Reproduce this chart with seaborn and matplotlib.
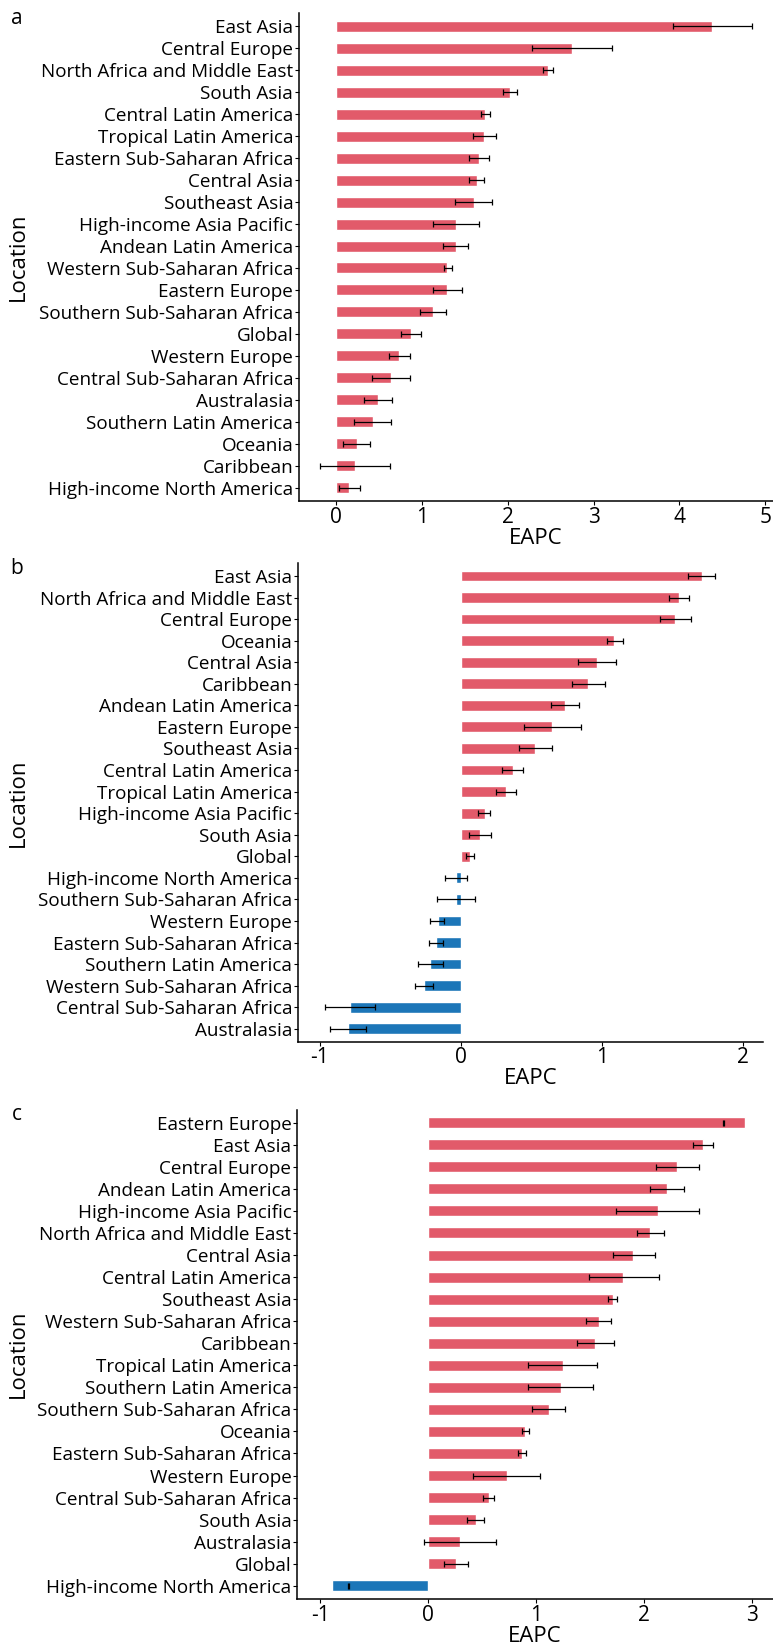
import matplotlib
matplotlib.use('Agg')
import matplotlib.pyplot as plt
from matplotlib.ticker import MultipleLocator
import seaborn as sns
import numpy as np
import pandas as pd


# panel a
locs_a = ["East Asia", "Central Europe", "North Africa and Middle East", "South Asia",
          "Central Latin America", "Tropical Latin America", "Eastern Sub-Saharan Africa",
          "Central Asia", "Southeast Asia", "High-income Asia Pacific", "Andean Latin America",
          "Western Sub-Saharan Africa", "Eastern Europe", "Southern Sub-Saharan Africa",
          "Global", "Western Europe", "Central Sub-Saharan Africa", "Australasia",
          "Southern Latin America", "Oceania", "Caribbean", "High-income North America"]
eapc_a = [4.38, 2.75, 2.47, 2.03, 1.74, 1.73, 1.67, 1.64, 1.61, 1.40, 1.40,
          1.30, 1.29, 1.13, 0.88, 0.74, 0.64, 0.49, 0.43, 0.25, 0.22, 0.16]
lo_a = [3.92, 2.29, 2.41, 1.95, 1.69, 1.60, 1.55, 1.55, 1.39, 1.13, 1.25,
        1.26, 1.13, 0.98, 0.76, 0.62, 0.42, 0.33, 0.21, 0.09, -0.18, 0.04]
hi_a = [4.84, 3.21, 2.53, 2.11, 1.79, 1.87, 1.78, 1.73, 1.82, 1.67, 1.54,
        1.35, 1.47, 1.28, 0.99, 0.87, 0.86, 0.65, 0.64, 0.40, 0.63, 0.28]

# panel b
locs_b = ["East Asia", "North Africa and Middle East", "Central Europe", "Oceania",
          "Central Asia", "Caribbean", "Andean Latin America", "Eastern Europe",
          "Southeast Asia", "Central Latin America", "Tropical Latin America",
          "High-income Asia Pacific", "South Asia", "Global", "High-income North America",
          "Southern Sub-Saharan Africa", "Western Europe", "Eastern Sub-Saharan Africa",
          "Southern Latin America", "Western Sub-Saharan Africa",
          "Central Sub-Saharan Africa", "Australasia"]
eapc_b = [1.71, 1.55, 1.52, 1.09, 0.97, 0.90, 0.74, 0.65, 0.53, 0.37, 0.32,
          0.17, 0.14, 0.066, -0.03, -0.03, -0.163, -0.175, -0.215, -0.26, -0.787, -0.80]
lo_b = [1.61, 1.48, 1.41, 1.04, 0.83, 0.79, 0.64, 0.45, 0.41, 0.29, 0.25,
        0.125, 0.06, 0.035, -0.11, -0.17, -0.215, -0.227, -0.30, -0.324, -0.96, -0.93]
hi_b = [1.80, 1.62, 1.63, 1.15, 1.10, 1.02, 0.84, 0.85, 0.65, 0.44, 0.39,
        0.21, 0.215, 0.097, 0.043, 0.10, -0.116, -0.128, -0.128, -0.20, -0.61, -0.67]

# panel c
locs_c = ["Eastern Europe", "East Asia", "Central Europe", "Andean Latin America",
          "High-income Asia Pacific", "North Africa and Middle East", "Central Asia",
          "Central Latin America", "Southeast Asia", "Western Sub-Saharan Africa",
          "Caribbean", "Tropical Latin America", "Southern Latin America",
          "Southern Sub-Saharan Africa", "Oceania", "Eastern Sub-Saharan Africa",
          "Western Europe", "Central Sub-Saharan Africa", "South Asia", "Australasia",
          "Global", "High-income North America"]
eapc_c = [2.94, 2.55, 2.31, 2.21, 2.13, 2.06, 1.90, 1.81, 1.71, 1.58, 1.55,
          1.25, 1.23, 1.12, 0.90, 0.87, 0.73, 0.56, 0.44, 0.30, 0.26, -0.89]
lo_c = [2.735, 2.46, 2.11, 2.06, 1.74, 1.94, 1.71, 1.49, 1.67, 1.46, 1.38,
        0.93, 0.93, 0.96, 0.87, 0.83, 0.42, 0.51, 0.36, -0.04, 0.15, -0.742]
hi_c = [2.745, 2.64, 2.51, 2.37, 2.51, 2.19, 2.10, 2.14, 1.75, 1.70, 1.72,
        1.57, 1.53, 1.27, 0.94, 0.91, 1.04, 0.61, 0.52, 0.63, 0.37, -0.732]

RED = '#E25A6A'
BLUE = '#1C76B8'
W, H = 773, 1646

sns.set_theme(style = 'white')
plt.rcParams['font.family'] = ['Open Sans', 'DejaVu Sans']
plt.rcParams['axes.unicode_minus'] = False
plt.rcParams['text.color'] = 'black'
plt.rcParams['axes.labelcolor'] = 'black'
plt.rcParams['xtick.color'] = 'black'
plt.rcParams['ytick.color'] = 'black'


def draw_panel(fig, box, locs, eapc, lo, hi, xlim, letter):
    """
        box = (left, top, right, bottom) in pixels
    """
    left, top, right, bottom = box
    ax = fig.add_axes([left / W, 1 - bottom / H, (right - left) / W, (bottom - top) / H])

    df = pd.DataFrame({'Location': locs, 'EAPC': eapc})
    df['sign'] = np.where(df['EAPC'] >= 0, 'pos', 'neg')
    sns.barplot(data = df, x = 'EAPC', y = 'Location', hue = 'sign', orient = 'h',
                palette = {'pos': RED, 'neg': BLUE}, dodge = False, width = 0.5,
                saturation = 1, legend = False, ax = ax)

    lo = np.array(lo)
    hi = np.array(hi)
    pos = np.arange(len(locs))
    ax.errorbar((lo + hi) / 2, pos, xerr = (hi - lo) / 2, fmt = 'none',
                ecolor = 'black', elinewidth = 0.9, capsize = 2.2, capthick = 0.9)

    ax.set_xlim(*xlim)
    ax.set_ylim(len(locs) - 0.4, -0.6)
    ax.xaxis.set_major_locator(MultipleLocator(1))
    ax.set_xlabel('EAPC', fontsize = 16, labelpad = 0)
    ax.set_ylabel('Location', fontsize = 16)
    ax.yaxis.set_label_coords((29 - left) / (right - left), 0.5)

    for side in ['top', 'right']:
        ax.spines[side].set_visible(False)
    for side in ['left', 'bottom']:
        ax.spines[side].set_color('black')
        ax.spines[side].set_linewidth(1.1)

    ax.tick_params(axis = 'y', labelsize = 13.6, length = 3, width = 0.8, color = 'black',
                   left = True, pad = 1)
    ax.tick_params(axis = 'x', labelsize = 15, length = 3, width = 0.8, color = 'black',
                   bottom = True, pad = 1)

    fig.text(17 / W, 1 - (top + 5) / H, letter, fontsize = 15, ha = 'center', va = 'center')
    return ax


fig = plt.figure(figsize = (W / 100, H / 100), dpi = 100)

draw_panel(fig, (298.7, 13, 773, 501), locs_a, eapc_a, lo_a, hi_a, (-0.43, 5.088), 'a')
draw_panel(fig, (297.7, 563, 763.3, 1041.7), locs_b, eapc_b, lo_b, hi_b, (-1.156, 2.146), 'b')
draw_panel(fig, (297, 1109.5, 773, 1599), locs_c, eapc_c, lo_c, hi_c, (-1.215, 3.197), 'c')

fig.savefig('out.png', dpi = 100)
plt.close(fig)
